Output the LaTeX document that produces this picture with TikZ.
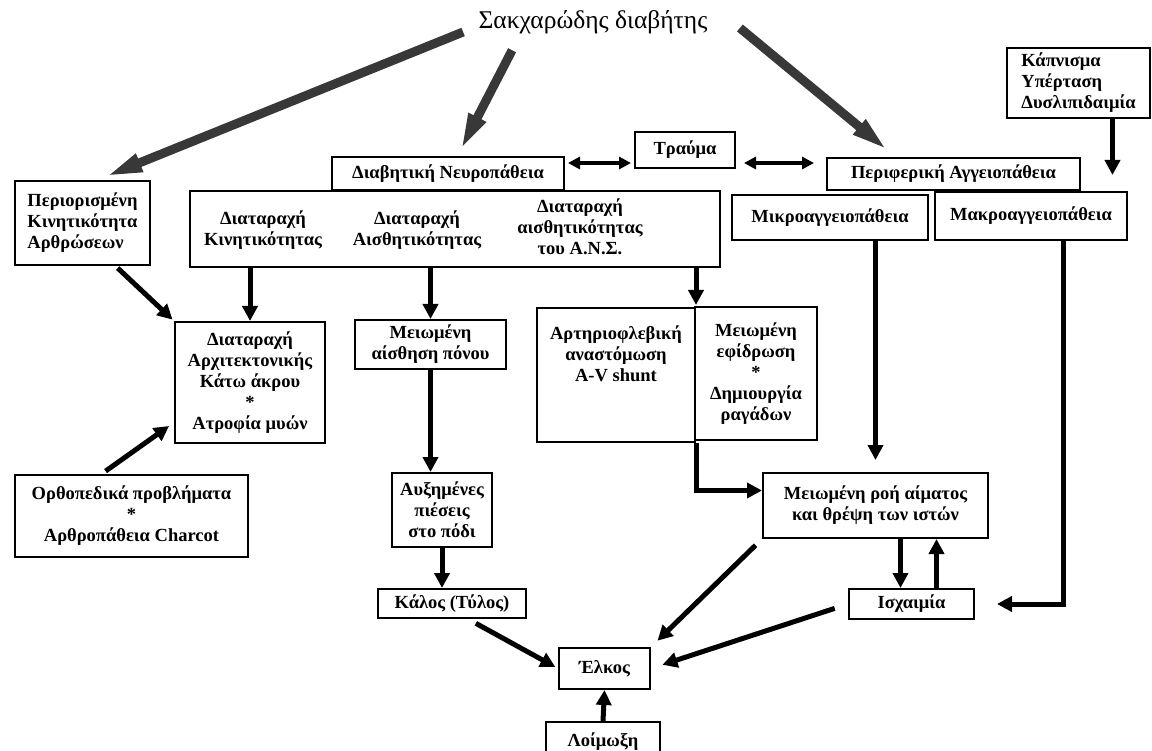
\documentclass[tikz,border=0pt]{standalone}
\usepackage{fontspec}
\setmainfont{Liberation Serif}
\usepackage{tikz}
\usetikzlibrary{arrows.meta,positioning,calc}
\tikzset{
  box/.style={draw, line width=2pt, align=center, inner sep=2pt,
    font=\bfseries\fontsize{18.5}{21}\selectfont},
  txt/.style={align=center, inner sep=1pt, font=\bfseries\fontsize{18.5}{21}\selectfont},
  arr/.style={-{Triangle[length=15pt,width=15pt]}, line width=5pt},
  dblarr/.style={{Triangle[length=12pt,width=12pt]}-{Triangle[length=12pt,width=12pt]}, line width=4pt},
  mainarr/.style={-{Triangle[length=38pt,width=17pt]}, line width=9pt, draw=black!78}}

\begin{document}
\begin{tikzpicture}[x=1pt,y=-1pt]
  \useasboundingbox (0,0) rectangle (1152,751);
  \clip (0,0) rectangle (1152,751);
  % top
  \node[font=\fontsize{25.5}{28}\selectfont] (dm) at (593,22) {Σακχαρώδης διαβήτης};
  \node[box, minimum width=135pt, minimum height=84pt, align=left] (limb) at (82.5,223) {Περιορισμένη\\Κινητικότητα\\Αρθρώσεων};
  \node[box, minimum width=232pt, minimum height=33pt] (neuro) at (448,173.5) {Διαβητική Νευροπάθεια};
  \node[box, minimum width=530pt, minimum height=76pt] (nbig) at (455,229) {};
  \node[txt] (motor) at (263,230) {Διαταραχή\\Κινητικότητας};
  \node[txt] (sens) at (417,230) {Διαταραχή\\Αισθητικότητας};
  \node[txt] (ans) at (580,227) {Διαταραχή\\αισθητικότητας\\του Α.Ν.Σ.};
  \node[box, minimum width=100pt, minimum height=36pt] (trauma) at (685,150) {Τραύμα};
  \node[box, minimum width=253pt, minimum height=32pt] (periph) at (953.5,174) {Περιφερική Αγγειοπάθεια};
  \node[box, minimum width=196pt, minimum height=45pt] (micro) at (830,217.5) {Μικροαγγειοπάθεια};
  \node[box, minimum width=192pt, minimum height=48pt] (macro) at (1031,216) {Μακροαγγειοπάθεια};
  \node[box, minimum width=143pt, minimum height=70pt, align=left] (risk) at (1078.5,83) {Κάπνισμα\\Υπέρταση\\Δυσλιπιδαιμία};
  % middle
  \node[box, minimum width=150pt, minimum height=121pt] (arch) at (250,382.5) {Διαταραχή\\Αρχιτεκτονικής\\Κάτω άκρου\\*\\Ατροφία μυών};
  \node[box, minimum width=151pt, minimum height=49pt] (pain) at (430.5,344.5) {Μειωμένη\\αίσθηση πόνου};
  \node[box, minimum width=158pt, minimum height=134pt] (shunt) at (616,375) {Αρτηριοφλεβική\\αναστόμωση\\A-V shunt\\ \\ };
  \node[box, minimum width=122pt, minimum height=133pt] (sweat) at (756,373.5) {Μειωμένη\\εφίδρωση\\*\\Δημιουργία\\ραγάδων};
  \node[box, minimum width=233pt, minimum height=82pt] (ortho) at (131.5,516) {Ορθοπεδικά προβλήματα\\*\\Αρθροπάθεια Charcot};
  \node[box, minimum width=100pt, minimum height=74pt] (press) at (442,510) {Αυξημένες\\πιέσεις\\στο πόδι};
  \node[box, minimum width=225pt, minimum height=65pt] (flow) at (875.5,505.5) {Μειωμένη ροή αίματος\\και θρέψη των ιστών};
  % bottom
  \node[box, minimum width=148pt, minimum height=29pt] (callus) at (452,603.5) {Κάλος (Τύλος)};
  \node[box, minimum width=125pt, minimum height=30pt] (isch) at (911.5,604) {Ισχαιμία};
  \node[box, minimum width=91pt, minimum height=41pt] (ulcer) at (604.5,668.5) {Έλκος};
  \node[box, minimum width=114pt, minimum height=40pt] (infect) at (603,742) {Λοίμωξη};

  \draw[mainarr] ([xshift=-12pt,yshift=-10pt]dm.west) -- ([xshift=22pt,yshift=3pt]limb.north);
  \draw[mainarr] ([xshift=37pt,yshift=-13pt]dm.south west) -- ([xshift=12pt,yshift=5pt]neuro.north);
  \draw[mainarr] ([xshift=29pt,yshift=-6pt]dm.east) -- ([xshift=-65pt,yshift=6pt]periph.north);
  \draw[dblarr, shorten <=3pt, shorten >=3pt] ([yshift=-13pt]trauma.west) -- ([yshift=-13pt]trauma.west -| neuro.east);
  \draw[dblarr, shorten <=8pt, shorten >=12pt] ([yshift=-13pt]trauma.east) -- ([yshift=-13pt]trauma.east -| periph.west);
  \draw[arr, shorten >=16pt] ([xshift=34pt]risk.south) -- ([xshift=34pt]risk.south |- macro.north);

  \draw[arr] (arch.north |- nbig.south) -- (arch.north);
  \draw[arr] (pain.north |- nbig.south) -- (pain.north);
  \draw[arr, shorten >=2pt] (shunt.north east |- nbig.south) -- (shunt.north east);
  \draw[arr, shorten <=3pt, shorten >=2pt] ([xshift=33pt]limb.south) -- (arch.north west);
  \draw[arr, shorten <=5pt, shorten >=6pt] ([xshift=-30pt]ortho.north) -- ([yshift=-40pt]arch.west);
  \draw[arr] (pain.south) -- (pain.south |- press.north);
  \draw[arr] (press.south) -- (press.south |- callus.north);
  \draw[arr] (shunt.south east) |- ([yshift=15pt]flow.west);
  \draw[arr, shorten >=12pt] (flow.north |- micro.south) -- (flow.north);
  \draw[arr, shorten >=22pt] ([xshift=32pt]macro.south) |- (isch.east);
  \draw[arr] ([xshift=-11pt]isch.north |- flow.south) -- ([xshift=-11pt]isch.north);
  \draw[arr] ([xshift=25pt]isch.north) -- ([xshift=25pt]isch.north |- flow.south);

  \draw[arr, shorten <=9pt, shorten >=3pt] ([xshift=16pt]callus.south) -- (ulcer.west);
  \draw[arr, shorten <=9pt, shorten >=9pt] (flow.south west) -- (ulcer.north east);
  \draw[arr, shorten <=14pt, shorten >=12pt] (isch.west) -- (ulcer.east);
  \draw[arr] (infect.north) -- (ulcer.south);
\end{tikzpicture}
\end{document}
